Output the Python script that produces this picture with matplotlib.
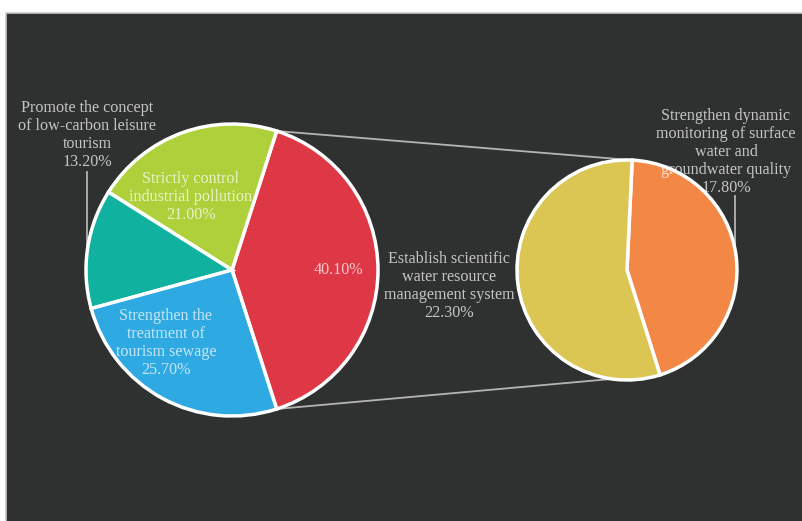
import numpy as np
import matplotlib.pyplot as plt
from matplotlib.patches import Rectangle

plt.rcParams['font.family'] = ['Liberation Serif', 'DejaVu Serif']

# main pie (red wedge is broken out into the small pie)
main_labels = ['', 'Strictly control\nindustrial pollution\n21.00%',
               'Promote the concept\nof low-carbon leisure\ntourism\n13.20%',
               'Strengthen the\ntreatment of\ntourism sewage\n25.70%']
main_values = [40.10, 21.00, 13.20, 25.70]
main_colors = ['#de3846', '#aed03a', '#10b19e', '#2ea9e1']

sub_labels = ['Strengthen dynamic\nmonitoring of surface\nwater and\ngroundwater quality\n17.80%',
              'Establish scientific\nwater resource\nmanagement system\n22.30%']
sub_values = [17.80, 22.30]
sub_colors = ['#f38745', '#dbc553']

W, H = 803, 521
fig = plt.figure(figsize=(W / 100, H / 100), dpi=100, facecolor='white')
ax = fig.add_axes([0, 0, 1, 1])

bg = '#2f3030'
ax.add_patch(Rectangle((6.5, -2), W, H - 10.5, facecolor=bg, edgecolor='#c8c8c8', lw=1.2, zorder=0))

txt = dict(color='white', alpha=0.72, fontsize=11.6, ha='center', va='center', linespacing=1.16)

# left pie
c1, r1 = (232, 251), 146
start = -main_values[0] / 100 * 360 / 2
wl, _ = ax.pie(main_values, colors=main_colors, center=c1, radius=r1, startangle=start,
               counterclock=True, frame=True,
               wedgeprops=dict(edgecolor='white', linewidth=2.5))
for w in wl:
    w.set_zorder(3)

# right pie
c2, r2 = (627, 251), 110
sub_start = -sub_values[0] / sum(sub_values) * 360 + 87.3
wr, _ = ax.pie(sub_values, colors=sub_colors, center=c2, radius=r2, startangle=sub_start,
               counterclock=True, frame=True,
               wedgeprops=dict(edgecolor='white', linewidth=2.5))
for w in wr:
    w.set_zorder(3)
ax.set_xlim(0, W)
ax.set_ylim(0, H)
ax.set_aspect('equal')
ax.axis('off')

# connector lines from red wedge to the small pie
t1, t2 = np.deg2rad(wl[0].theta1), np.deg2rad(wl[0].theta2)
for a_left, a_right in [(t2, np.deg2rad(88)), (t1, np.deg2rad(-98))]:
    x0 = c1[0] + r1 * np.cos(a_left)
    y0 = c1[1] + r1 * np.sin(a_left)
    x1 = c2[0] + r2 * np.cos(a_right)
    y1 = c2[1] + r2 * np.sin(a_right)
    ax.plot([x0, x1], [y0, y1], color='#b4b4b4', lw=1.3, zorder=2)

# labels
ax.text(338, H - 270, '40.10%', **txt, zorder=5)
ax.text(191, H - 197, main_labels[1], **txt, zorder=5)
ax.text(87, H - 135, main_labels[2], **txt, zorder=5)
ax.text(166, H - 343, main_labels[3], **txt, zorder=5)
ax.text(449, H - 286, sub_labels[1], **txt, zorder=5)
ax.text(726, H - 152, sub_labels[0], **txt, zorder=5)

# leader lines
ax.plot([87, 87], [H - 172, H - 250], color='#b4b4b4', lw=1.3, zorder=2)
ax.plot([735, 735], [H - 196, H - 256], color='#b4b4b4', lw=1.3, zorder=2)

fig.savefig('out.png', dpi=100, facecolor='white')
